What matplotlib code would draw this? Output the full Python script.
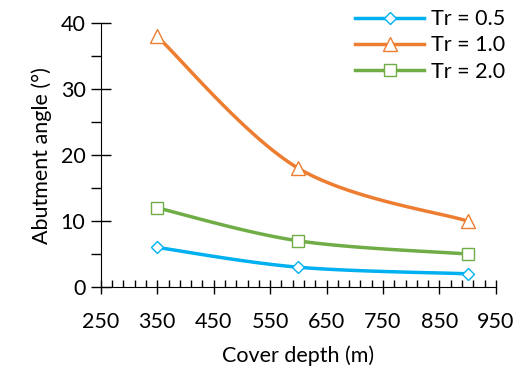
import numpy as np
import matplotlib
matplotlib.use("Agg")
import matplotlib.pyplot as plt
from matplotlib.ticker import MultipleLocator

plt.rcParams["font.family"] = ["Lato", "DejaVu Sans"]

depth = [350, 600, 900]
tr05 = [6, 3, 2]
tr10 = [38, 18, 10]
tr20 = [12, 7, 5]

labels = ["Tr = 0.5", "Tr = 1.0", "Tr = 2.0"]
colors = ["#00B0F0", "#ED7D31", "#70AD47"]
markers = ["D", "^", "s"]
msizes = [6, 9.5, 9]


def smooth(x, y, n=40):
    # Excel-style smoothed line: Catmull-Rom through the points as cubic Bezier
    x = np.asarray(x, float)
    y = np.asarray(y, float)
    px = np.concatenate([[x[0]], x, [x[-1]]])
    py = np.concatenate([[y[0]], y, [y[-1]]])
    t = np.linspace(0, 1, n)[:, None]
    xs, ys = [], []
    for i in range(1, len(x)):
        p0 = np.array([px[i], py[i]])
        p3 = np.array([px[i + 1], py[i + 1]])
        c1 = p0 + (p3 - np.array([px[i - 1], py[i - 1]])) / 6
        c2 = p3 - (np.array([px[i + 2], py[i + 2]]) - p0) / 6
        b = ((1 - t) ** 3) * p0 + 3 * ((1 - t) ** 2) * t * c1 + 3 * (1 - t) * t ** 2 * c2 + t ** 3 * p3
        xs.append(b[:, 0])
        ys.append(b[:, 1])
    return np.concatenate(xs), np.concatenate(ys)


fs = 15.5
fig = plt.figure(figsize=(5.17, 3.73), dpi=100)
ax = fig.add_axes([0.195, 0.2306, 0.764, 0.707])

for yv, lab, col, mk, ms in zip([tr05, tr10, tr20], labels, colors, markers, msizes):
    sx, sy = smooth(depth, yv)
    ax.plot(sx, sy, color=col, lw=2.5, solid_capstyle="round", zorder=2)
    ax.plot(depth, yv, ls="none", marker=mk, ms=ms, mfc="white", mec=col, mew=1.0, zorder=3)
    ax.plot([], [], color=col, lw=2.5, marker=mk, ms=ms, mfc="white", mec=col, mew=1.0, label=lab)

ax.set_xlim(250, 950)
ax.set_ylim(0, 40)
ax.xaxis.set_major_locator(MultipleLocator(100, offset=50))
ax.xaxis.set_minor_locator(MultipleLocator(20, offset=10))
ax.yaxis.set_major_locator(MultipleLocator(10))
ax.yaxis.set_minor_locator(MultipleLocator(5))
ax.tick_params(axis="x", which="major", direction="inout", length=10, width=1, labelsize=fs, pad=13)
ax.tick_params(axis="x", which="minor", direction="in", length=5, width=1)
ax.tick_params(axis="y", which="major", direction="inout", length=14, width=1, labelsize=fs, pad=4)
ax.tick_params(axis="y", which="minor", direction="out", length=7, width=1)
for s in ["top", "right"]:
    ax.spines[s].set_visible(False)
ax.set_xlabel("Cover depth (m)", fontsize=fs, labelpad=10)
ax.set_ylabel("Abutment angle (°)", fontsize=fs, labelpad=6)

ax.legend(loc="upper right", bbox_to_anchor=(1.045, 1.085), frameon=False, fontsize=fs,
          handlelength=3.2, handletextpad=0.3, labelspacing=0.28, borderaxespad=0)

fig.savefig("out.png", dpi=100)
